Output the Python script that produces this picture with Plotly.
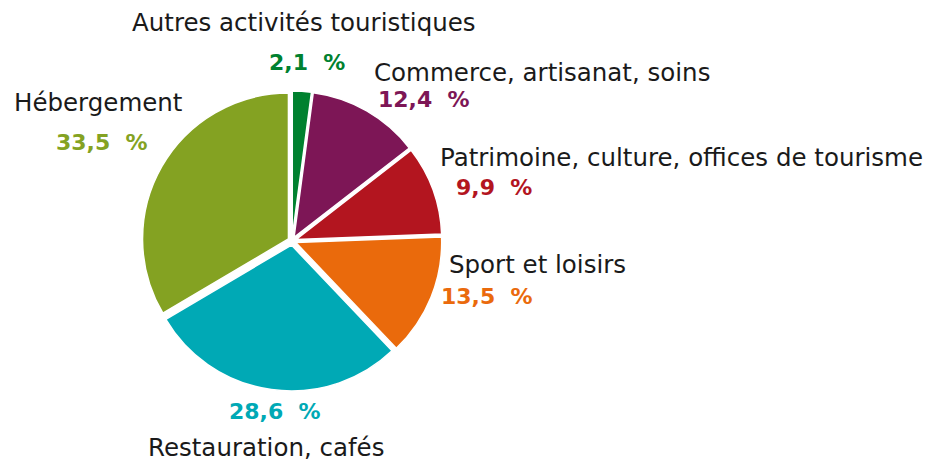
import plotly.graph_objects as go

categories = ["Autres activités touristiques", "Commerce, artisanat, soins",
              "Patrimoine, culture, offices de tourisme", "Sport et loisirs",
              "Restauration, cafés", "Hébergement"]
values = [2.1, 12.4, 9.9, 13.5, 28.6, 33.5]
value_labels = ["2,1  %", "12,4  %", "9,9  %", "13,5  %", "28,6  %", "33,5  %"]
colors = ["#00812F", "#7D1656", "#B3151F", "#EA6A0C", "#00A9B5", "#84A222"]

W, H = 940, 463
cx, cy, R = 292, 241, 150

fig = go.Figure(go.Pie(
    labels=categories, values=values, sort=False, direction="clockwise",
    rotation=0, pull=[0.028] * len(values),
    marker=dict(colors=colors, line=dict(color="white", width=1.5)),
    textinfo="none", hoverinfo="label+percent", showlegend=False,
    domain=dict(x=[(cx - R) / W, (cx + R) / W], y=[(H - cy - R) / H, (H - cy + R) / H]),
))

FONT = "DejaVu Sans"
# (name x, name y, name anchor, value x, value y, value anchor) in pixels
pos = [
    (130, 22, "left", 307, 62, "center"),
    (372, 72, "left", 424, 100, "center"),
    (438, 157, "left", 494, 188, "center"),
    (447, 264, "left", 487, 296, "center"),
    (266, 447, "center", 275, 411, "center"),
    (12, 103, "left", 102, 143, "center"),
]
for cat, lab, col, (nx, ny, na, vx, vy, va) in zip(categories, value_labels, colors, pos):
    fig.add_annotation(x=nx / W, y=1 - ny / H, xref="paper", yref="paper", text=cat,
                       showarrow=False, xanchor=na, yanchor="middle",
                       font=dict(family=FONT, size=24.5, color="#1a1a1a"))
    fig.add_annotation(x=vx / W, y=1 - vy / H, xref="paper", yref="paper", text="<b>" + lab + "</b>",
                       showarrow=False, xanchor=va, yanchor="middle",
                       font=dict(family=FONT, size=22, color=col))

fig.update_layout(width=W, height=H, margin=dict(l=0, r=0, t=0, b=0),
                  paper_bgcolor="white", plot_bgcolor="white")
fig.write_html("out.html", config={"displayModeBar": False},
               post_script="document.body.style.margin='0';")
